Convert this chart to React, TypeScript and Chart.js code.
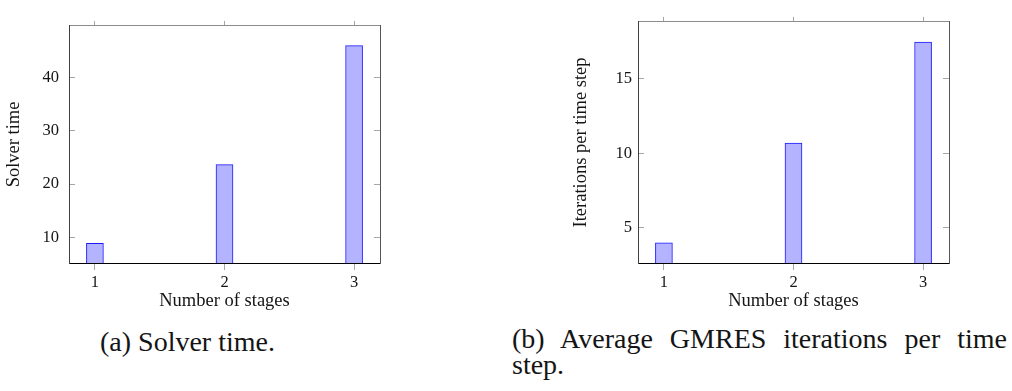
import React, { useEffect, useRef } from "react";
import { Chart, registerables } from "chart.js";

Chart.register(...registerables);

// ---- data ----
const stages = [1, 2, 3];
const solverTime = [8.93, 23.67, 45.95];
const gmresIterations = [4.0, 10.69, 17.46];
const solverTimeTicks = [10, 20, 30, 40];
const gmresTicks = [5, 10, 15];
const xTitle = "Number of stages";
const solverTitle = "Solver time";
const gmresTitle = "Iterations per time step";
const captionA = "(a) Solver time.";
const captionBLine1 = "(b) Average GMRES iterations per time";
const captionBLine2 = "step.";

const ENLARGE = 0.1; // pgfplots default "enlargelimits" fraction

const FONT = "'Liberation Serif', 'Times New Roman', serif";
const TEXT = "#141414";
const TICK = "#a6a6a6";

function limits(vals: number[]): [number, number] {
  const lo = Math.min(...vals);
  const hi = Math.max(...vals);
  const r = hi - lo;
  return [lo - ENLARGE * r, hi + ENLARGE * r];
}

type PanelProps = {
  values: number[];
  yTicks: number[];
  yTitle: string;
  left: number;
  width: number;
  height: number;
  axisWidth: number;
  padRight: number;
  yLabelPad: number;
  yTitlePad: number;
};

function Panel(p: PanelProps) {
  const ref = useRef<HTMLCanvasElement | null>(null);
  useEffect(() => {
    if (!ref.current) return;
    const [xmin, xmax] = limits(stages);
    const [ymin, ymax] = limits(p.values);
    const xTicks = (s: any) => {
      s.ticks = stages.map((v) => ({ value: v }));
    };
    const yTicksFn = (s: any) => {
      s.ticks = p.yTicks.map((v) => ({ value: v }));
    };
    const chart = new Chart(ref.current, {
      type: "bar",
      data: {
        datasets: [
          {
            data: stages.map((s, i) => ({ x: s, y: p.values[i] })) as any,
            backgroundColor: "#b3b3ff",
            borderColor: "#1a1aff",
            borderWidth: 1,
            borderSkipped: "start",
            barThickness: 17,
          },
        ],
      },
      options: {
        animation: false,
        responsive: false,
        maintainAspectRatio: false,
        devicePixelRatio: 1,
        layout: { padding: { left: 0, right: p.padRight, top: 0, bottom: 0 } },
        plugins: {
          legend: { display: false },
          tooltip: { enabled: false },
          title: { display: false },
        },
        scales: {
          x: {
            type: "linear",
            position: "bottom",
            min: xmin,
            max: xmax,
            offset: false,
            afterBuildTicks: xTicks,
            afterFit: (s: any) => {
              s.height = 57;
            },
            grid: { drawOnChartArea: false, offset: false, tickLength: 7, color: TICK },
            border: { color: "#000", width: 1 },
            ticks: { padding: 3, font: { family: FONT, size: 16.5 }, color: TEXT, maxRotation: 0 },
            title: {
              display: true,
              text: xTitle,
              font: { family: FONT, size: 18.5 },
              color: TEXT,
              padding: { top: 0, bottom: 8 },
            },
          },
          xTop: {
            type: "linear",
            position: "top",
            min: xmin,
            max: xmax,
            offset: false,
            afterBuildTicks: xTicks,
            afterFit: (s: any) => {
              s.height = 5;
            },
            ticks: { display: false },
            grid: { drawOnChartArea: false, offset: false, tickLength: 5, color: TICK },
            border: { color: "#8c8c8c", width: 1 },
          },
          y: {
            type: "linear",
            position: "left",
            min: ymin,
            max: ymax,
            afterBuildTicks: yTicksFn,
            afterFit: (s: any) => {
              s.width = p.axisWidth;
            },
            grid: { drawOnChartArea: false, tickLength: -6, color: TICK },
            border: { color: "#404040", width: 1 },
            ticks: { padding: p.yLabelPad, font: { family: FONT, size: 16.5 }, color: TEXT },
            title: {
              display: true,
              text: p.yTitle,
              font: { family: FONT, size: 18.5 },
              color: TEXT,
              padding: { top: p.yTitlePad, bottom: 0 },
            },
          },
          yRight: {
            type: "linear",
            position: "right",
            min: ymin,
            max: ymax,
            afterBuildTicks: yTicksFn,
            afterFit: (s: any) => {
              s.width = 0;
            },
            ticks: { display: false },
            grid: { drawOnChartArea: false, tickLength: -6, color: TICK },
            border: { color: "#555", width: 1 },
          },
        },
      } as any,
    });
    return () => chart.destroy();
  }, []);
  return (
    <canvas
      ref={ref}
      width={p.width}
      height={p.height}
      style={{ position: "absolute", left: p.left, top: 0, width: p.width, height: p.height }}
    />
  );
}

export default function App() {
  const capStyle: React.CSSProperties = {
    position: "absolute",
    fontFamily: FONT,
    fontSize: 28,
    lineHeight: "26px",
    color: TEXT,
    whiteSpace: "nowrap",
  };
  return (
    <div
      style={{
        position: "absolute",
        left: 0,
        top: 0,
        width: 1012,
        height: 391,
        background: "#fff",
        overflow: "hidden",
      }}
    >
      <Panel
        values={solverTime}
        yTicks={solverTimeTicks}
        yTitle={solverTitle}
        left={0}
        width={400}
        height={320}
        axisWidth={69}
        padRight={20}
        yLabelPad={16}
        yTitlePad={3}
      />
      <Panel
        values={gmresIterations}
        yTicks={gmresTicks}
        yTitle={gmresTitle}
        left={560}
        width={452}
        height={320}
        axisWidth={78}
        padRight={63}
        yLabelPad={12}
        yTitlePad={10}
      />
      <div style={{ ...capStyle, left: 100, top: 329 }}>{captionA}</div>
      <div style={{ ...capStyle, left: 512, top: 326, width: 495, whiteSpace: "normal" }}>
        <div style={{ textAlign: "justify", textAlignLast: "justify", whiteSpace: "nowrap" }}>
          {captionBLine1}
        </div>
        <div>{captionBLine2}</div>
      </div>
    </div>
  );
}
